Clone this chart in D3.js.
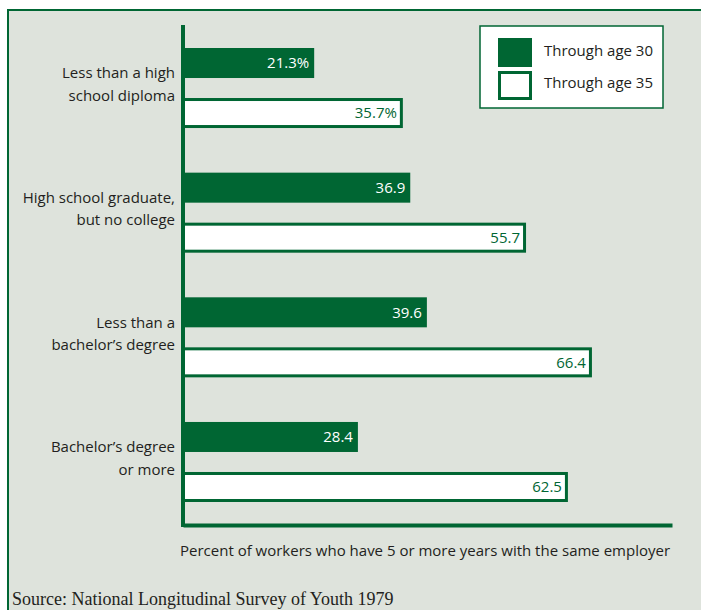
<!DOCTYPE html>
<html>
<head>
<meta charset="utf-8">
<script src="https://cdn.jsdelivr.net/npm/d3@7"></script>
<style>
  body { margin: 0; background: #fff; }
  svg text { font-family: "Open Sans", "Noto Sans", sans-serif; }
</style>
</head>
<body>
<div id="chart"></div>
<script>
// tenure data
var categories = [
  ["Less than a high", "school diploma"],
  ["High school graduate,", "but no college"],
  ["Less than a", "bachelor\u2019s degree"],
  ["Bachelor\u2019s degree", "or more"]
];
var series = ["Through age 30", "Through age 35"];
var age30 = [21.3, 36.9, 39.6, 28.4];
var age35 = [35.7, 55.7, 66.4, 62.5];
var labels30 = ["21.3%", "36.9", "39.6", "28.4"];
var labels35 = ["35.7%", "55.7", "66.4", "62.5"];

var w = 701, h = 610;
var green = "#006633";
var bg = "#dee3dc";
var ink = "#231f20";

var svg = d3.select("#chart").append("svg")
    .attr("width", w)
    .attr("height", h);

// frame
svg.append("rect")
    .attr("x", 8).attr("y", 10)
    .attr("width", w + 20).attr("height", h + 20)
    .attr("fill", bg)
    .attr("stroke", green)
    .attr("stroke-width", 2);

var data = categories.map(function(c, i) {
    return {cat: c.join(" "), lines: c, v: [age30[i], age35[i]], t: [labels30[i], labels35[i]]};
});

var x = d3.scaleLinear().domain([0, 79.4]).range([183, 672]);

var y = d3.scaleBand()
    .domain(data.map(function(d) { return d.cat; }))
    .range([48, 502])
    .paddingInner(0.358)
    .paddingOuter(0);

var ySub = d3.scaleBand()
    .domain([0, 1])
    .range([0, y.bandwidth()])
    .paddingInner(0.4);

var groups = svg.selectAll("g.grp")
    .data(data)
    .enter()
    .append("g")
    .attr("class", "grp")
    .attr("transform", function(d) { return "translate(0," + y(d.cat) + ")"; });

// through age 30: solid bars
groups.append("rect")
    .attr("x", x(0))
    .attr("y", ySub(0))
    .attr("width", function(d) { return x(d.v[0]) - x(0); })
    .attr("height", ySub.bandwidth())
    .attr("fill", green);

// through age 35: outlined bars
groups.append("rect")
    .attr("x", x(0))
    .attr("y", ySub(1) + 1.5)
    .attr("width", function(d) { return x(d.v[1]) - x(0) - 1.5; })
    .attr("height", ySub.bandwidth() - 3)
    .attr("fill", "#fff")
    .attr("stroke", green)
    .attr("stroke-width", 3);

groups.append("text")
    .attr("x", function(d) { return x(d.v[0]) - 5; })
    .attr("y", ySub(0) + ySub.bandwidth() / 2)
    .attr("dy", "0.35em")
    .attr("text-anchor", "end")
    .attr("fill", "#fff")
    .attr("font-size", "15px")
    .text(function(d) { return d.t[0]; });

groups.append("text")
    .attr("x", function(d) { return x(d.v[1]) - 6; })
    .attr("y", ySub(1) + ySub.bandwidth() / 2)
    .attr("dy", "0.35em")
    .attr("text-anchor", "end")
    .attr("fill", green)
    .attr("font-size", "15px")
    .text(function(d) { return d.t[1]; });

// category labels
var lab = groups.append("text")
    .attr("text-anchor", "end")
    .attr("fill", ink)
    .attr("font-size", "15px");
lab.selectAll("tspan")
    .data(function(d) { return d.lines; })
    .enter()
    .append("tspan")
    .attr("x", 175)
    .attr("y", function(d, i) { return y.bandwidth() / 2 - 15 + i * 22.5; })
    .attr("dy", "0.35em")
    .text(function(d) { return d; });

// axes
svg.append("line")
    .attr("x1", x(0)).attr("x2", x(0))
    .attr("y1", 25).attr("y2", 527)
    .attr("stroke", green).attr("stroke-width", 4);

svg.append("g")
    .attr("transform", "translate(0,525)")
    .call(d3.axisBottom(x).ticks(0).tickSizeOuter(0))
    .call(function(g) {
        g.select(".domain").attr("stroke", green).attr("stroke-width", 4);
    });

svg.append("text")
    .attr("x", 180)
    .attr("y", 551)
    .attr("dy", "0.35em")
    .attr("fill", ink)
    .attr("font-size", "15px")
    .text("Percent of workers who have 5 or more years with the same employer");

// legend
var legend = svg.append("g").attr("transform", "translate(480,26)");
legend.append("rect")
    .attr("width", 183).attr("height", 82)
    .attr("fill", "#fff")
    .attr("stroke", green).attr("stroke-width", 1.5);
legend.append("rect")
    .attr("x", 18).attr("y", 12)
    .attr("width", 34).attr("height", 29)
    .attr("fill", green);
legend.append("rect")
    .attr("x", 19.5).attr("y", 46.5)
    .attr("width", 31).attr("height", 26)
    .attr("fill", "#fff")
    .attr("stroke", green).attr("stroke-width", 3);
legend.selectAll("text.lg")
    .data(series)
    .enter()
    .append("text")
    .attr("class", "lg")
    .attr("x", 64)
    .attr("y", function(d, i) { return 25 + i * 32; })
    .attr("dy", "0.35em")
    .attr("fill", ink)
    .attr("font-size", "15px")
    .text(function(d) { return d; });

// source
svg.append("text")
    .attr("x", 12)
    .attr("y", 605)
    .attr("fill", ink)
    .style("font-family", "'Liberation Serif', 'Times New Roman', serif")
    .attr("font-size", "18px")
    .text("Source: National Longitudinal Survey of Youth 1979");
</script>
</body>
</html>
